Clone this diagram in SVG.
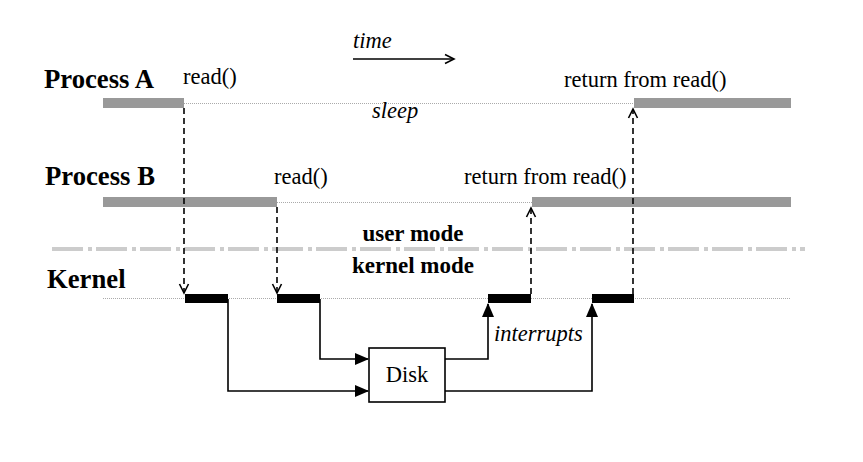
<svg xmlns="http://www.w3.org/2000/svg" width="863" height="462" viewBox="0 0 863 462">
<style>
.lbl{font-family:"Liberation Serif","Times New Roman",serif;font-weight:bold;font-size:26.7px;fill:#000}
.t{font-family:"Liberation Serif","Times New Roman",serif;font-size:22.5px;fill:#000}
.it{font-family:"Liberation Serif","Times New Roman",serif;font-style:italic;font-size:22.5px;fill:#000}
.b{font-family:"Liberation Serif","Times New Roman",serif;font-weight:bold;font-size:23px;fill:#000}
.run{fill:#999}
.kb{fill:#000}
.dot{stroke:#aaa;stroke-width:1;stroke-dasharray:1 1;fill:none}
.dash{stroke:#000;stroke-width:1.6;stroke-dasharray:6 4;fill:none}
.solid{stroke:#000;stroke-width:1.6;fill:none}
</style>
<defs>
<marker id="open" markerWidth="12" markerHeight="12" refX="10" refY="6" orient="auto" markerUnits="userSpaceOnUse">
<path d="M1,1.5 L10,6 L1,10.5" fill="none" stroke="#000" stroke-width="1.6"/>
</marker>
<marker id="fill" markerWidth="14" markerHeight="12" refX="13" refY="6" orient="auto" markerUnits="userSpaceOnUse">
<path d="M0,0 L14,6 L0,12 Z" fill="#000"/>
</marker>
</defs>
<rect width="863" height="462" fill="#fff"/>

<g id="time">
<text class="it" x="353" y="48">time</text>
<line x1="353" y1="59" x2="454" y2="59" stroke="#000" stroke-width="1.6" marker-end="url(#open)"/>
</g>

<g id="processA">
<text class="lbl" x="44" y="88">Process A</text>
<rect class="run" x="103" y="98" width="81" height="10"/>
<line class="dot" x1="184" y1="103.5" x2="634" y2="103.5"/>
<rect class="run" x="634" y="98" width="157" height="10"/>
<text class="t" x="183" y="84">read()</text>
<text class="t" x="564" y="87">return from read()</text>
<text class="it" x="372" y="118">sleep</text>
</g>

<g id="processB">
<text class="lbl" x="45" y="185">Process B</text>
<rect class="run" x="103" y="197" width="174" height="10"/>
<line class="dot" x1="277" y1="202.5" x2="532" y2="202.5"/>
<rect class="run" x="532" y="197" width="259" height="10"/>
<text class="t" x="274" y="184">read()</text>
<text class="t" x="464" y="184">return from read()</text>
</g>

<g id="modeBoundary">
<line x1="52" y1="249" x2="805" y2="249" stroke="#ccc" stroke-width="4" stroke-dasharray="31 5 4 4"/>
<text class="b" x="413" y="241" text-anchor="middle">user mode</text>
<text class="b" x="413" y="273" text-anchor="middle">kernel mode</text>
</g>

<g id="kernel">
<text class="lbl" x="47" y="288">Kernel</text>
<line class="dot" x1="103" y1="298.5" x2="791" y2="298.5"/>
<rect class="kb" x="185" y="294" width="43" height="9"/>
<rect class="kb" x="277" y="294" width="43" height="9"/>
<rect class="kb" x="488" y="294" width="43" height="9"/>
<rect class="kb" x="592" y="294" width="42" height="9"/>
</g>

<g id="disk">
<rect x="369" y="348" width="76" height="54" fill="#fff" stroke="#000" stroke-width="1.6"/>
<text class="t" x="407" y="382" text-anchor="middle">Disk</text>
</g>

<g id="connectors">
<line class="dash" x1="184" y1="108" x2="184" y2="293" marker-end="url(#open)"/>
<line class="dash" x1="277" y1="207" x2="277" y2="293" marker-end="url(#open)"/>
<line class="dash" x1="531" y1="294" x2="531" y2="208" marker-end="url(#open)"/>
<line class="dash" x1="633" y1="294" x2="633" y2="109" marker-end="url(#open)"/>
<path class="solid" d="M228,299 V391 H368" marker-end="url(#fill)"/>
<path class="solid" d="M320,299 V359 H368" marker-end="url(#fill)"/>
<path class="solid" d="M445,359 H488 V304" marker-end="url(#fill)"/>
<path class="solid" d="M445,391 H592 V304" marker-end="url(#fill)"/>
<text class="it" x="494" y="341">interrupts</text>
</g>
</svg>
